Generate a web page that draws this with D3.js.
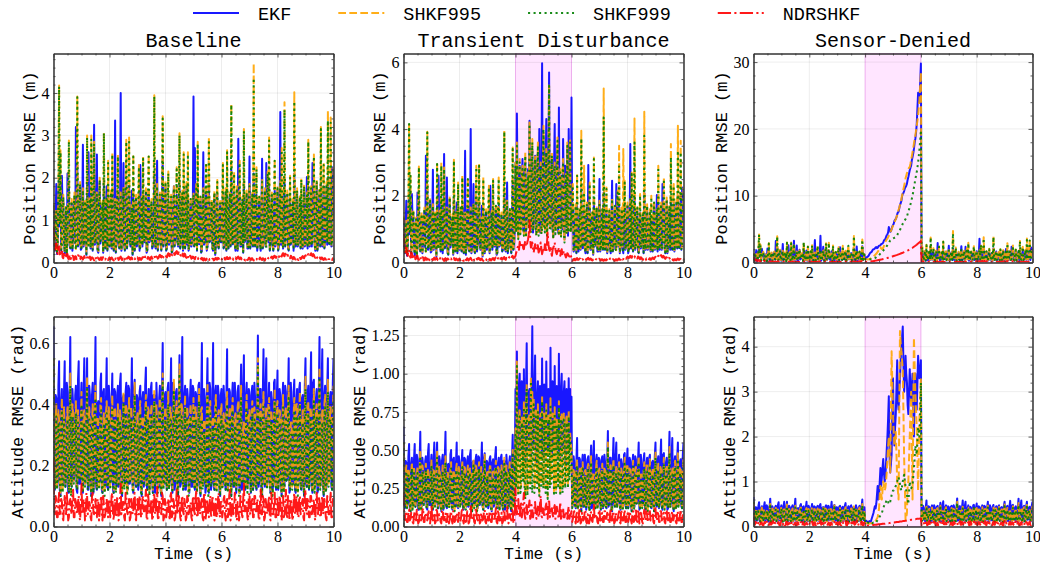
<!DOCTYPE html>
<html>
<head>
<meta charset="utf-8">
<script src="https://cdn.jsdelivr.net/npm/d3@7"></script>
<style>
  html, body { margin: 0; padding: 0; background: #fff; }
  svg { display: block; }
</style>
</head>
<body>
<svg id="chart" width="1040" height="568"></svg>
<script>
// ---------------------------------------------------------------------------
// RMSE time histories sampled every 0.025 s over 0..10 s (401 samples).
// The disturbance and sensor-outage runs share the nominal samples outside
// the 4..6 s event window; the window samples (81 each) are listed separately.
// ---------------------------------------------------------------------------
const timeStep = 0.025;
const methods = ["EKF", "SHKF995", "SHKF999", "NDRSHKF"];
const scenarios = ["Baseline", "Transient Disturbance", "Sensor-Denied"];
const rowLabels = ["Position RMSE (m)", "Attitude RMSE (rad)"];
const xLabel = "Time (s)";
const xTicks = [0, 2, 4, 6, 8, 10];
const eventWindow = [4, 6];

// Nominal position RMSE (m)
const posEKF = [
  1.3,0.45,0.28,1.05,1.85,0.2,0.42,1.5,2.1,0.85,1.6,0.28,2.05,1.2,1.5,0.55,0.22,0.9,1.25,0.18,2.1,1.35,1.9,0.4,0.33,1.1,1.4,0.28,0.58,1.3,1.55,0.45,3.2,1.0,2.3,0.38,0.43,1.15,1.8,0.3,
  0.33,1.15,2.78,0.38,0.52,1.4,1.25,0.18,1.9,0.55,2.6,1.25,1.45,0.33,1.8,0.75,0.28,1.2,3.25,0.42,0.48,1.05,2.55,0.28,0.23,1.25,1.9,0.45,0.58,1.15,1.35,0.23,1.95,0.65,0.33,1.3,1.8,0.28,1.6,0.5,
  0.38,1.25,1.6,0.33,1.7,0.48,0.28,1.15,3.35,0.23,0.52,1.35,1.7,0.42,0.33,1.1,4.0,0.28,0.48,1.2,2.35,0.38,0.28,1.45,1.9,0.33,0.58,1.25,1.8,0.5,0.38,1.05,1.7,0.18,1.6,0.55,0.28,1.3,1.5,0.38,
  0.43,1.2,1.5,0.28,2.3,1.05,1.45,0.38,1.6,0.55,0.48,1.25,1.65,0.23,0.28,1.4,1.7,0.48,0.52,1.15,1.4,0.33,0.38,0.95,2.1,0.42,0.33,1.35,2.4,0.28,0.48,1.1,1.55,0.48,0.28,1.25,2.45,0.38,0.58,1.15,
  1.8,0.28,0.33,1.25,1.5,0.42,0.48,1.15,1.5,0.23,0.28,1.3,1.8,0.38,0.58,1.05,1.6,0.48,0.38,1.2,1.9,0.33,0.48,1.35,1.6,0.28,1.7,0.55,0.33,1.15,1.8,0.42,1.6,0.28,0.38,1.1,1.45,0.38,0.52,1.25,
  3.92,0.38,2.7,1.15,1.75,0.28,1.8,0.52,0.43,1.25,1.5,0.23,0.28,1.05,2.6,0.42,0.48,1.3,1.6,0.28,0.38,1.2,1.85,0.48,0.52,1.1,1.4,0.33,0.28,1.35,1.6,0.18,0.43,1.15,1.6,0.38,0.33,1.0,1.35,0.48,
  0.48,1.25,1.6,0.33,0.38,1.1,1.65,0.28,1.7,0.48,0.33,1.2,1.55,0.38,2.2,0.58,0.43,1.15,1.6,0.42,0.28,1.3,1.7,0.28,2.92,1.05,1.6,0.38,0.38,1.25,1.45,0.23,1.9,0.48,0.52,1.15,1.6,0.33,0.33,1.2,
  2.5,0.33,0.43,1.15,1.55,0.38,2.1,0.58,0.38,1.25,1.6,0.28,0.48,1.1,1.5,0.42,0.28,1.2,2.45,0.33,0.52,1.05,1.65,0.38,2.35,1.3,1.6,0.48,1.8,0.28,0.43,1.15,1.55,0.42,0.28,1.25,1.7,0.38,0.48,1.1,
  1.7,0.28,0.38,1.2,3.55,0.42,1.6,0.48,0.33,1.15,2.0,0.38,1.5,1.25,1.6,0.33,0.28,1.1,1.5,0.42,0.52,1.25,1.4,0.28,2.1,0.52,0.38,1.15,1.65,0.38,0.48,1.05,1.5,0.33,1.4,0.48,0.33,1.2,1.75,0.38,
  0.43,1.15,2.02,0.33,1.8,0.48,0.38,1.25,1.7,0.38,2.35,1.1,1.6,0.42,0.28,1.2,1.85,0.28,0.48,1.3,1.65,0.38,1.9,0.58,0.38,1.15,1.8,0.33,0.52,1.25,1.8,0.42,2.0,0.48,0.43,1.05,1.9,0.38,2.25,1.0,2.2
];
const posSHKF995 = [
  1.4,0.52,0.32,1.15,1.25,0.27,0.47,1.65,4.18,0.95,2.65,0.32,0.42,1.3,1.6,0.62,0.27,1.0,1.35,0.22,0.52,1.45,2.88,0.47,0.37,1.2,1.5,0.32,0.62,1.4,1.65,0.52,0.32,1.1,3.92,0.42,0.47,1.25,1.9,0.37,
  0.37,1.25,1.75,0.42,0.57,1.5,1.35,0.22,3.0,0.62,0.42,1.35,1.55,0.37,3.0,0.82,0.32,1.3,2.85,0.47,0.52,1.15,1.65,0.32,0.27,1.35,2.0,0.52,0.62,1.25,1.45,0.27,3.08,0.72,0.37,1.4,1.55,0.32,2.4,0.57,
  0.42,1.35,1.7,0.37,2.6,0.52,0.32,1.25,1.5,0.27,0.57,1.45,2.55,0.47,0.37,1.2,1.65,0.32,0.52,1.3,1.8,0.42,0.32,1.55,2.9,0.37,0.62,1.35,2.95,0.57,0.42,1.15,1.35,0.22,2.55,0.62,0.32,1.4,1.6,0.42,
  0.47,1.3,2.3,0.32,0.37,1.15,1.55,0.42,2.5,0.62,0.52,1.35,1.75,0.27,0.32,1.5,2.55,0.52,0.57,1.25,1.5,0.37,0.42,1.05,3.95,0.47,0.37,1.45,1.85,0.32,0.52,1.2,1.65,0.52,0.32,1.35,3.45,0.42,0.62,1.25,
  1.95,0.32,0.37,1.35,2.15,0.47,0.52,1.25,1.6,0.27,0.32,1.4,1.8,0.42,0.62,1.15,2.25,0.52,0.42,1.3,3.05,0.37,0.52,1.45,1.7,0.32,2.6,0.62,0.37,1.25,1.9,0.47,2.6,0.32,0.42,1.2,1.55,0.42,0.57,1.35,
  1.65,0.42,0.37,1.25,1.85,0.32,2.85,0.57,0.47,1.35,1.6,0.27,0.32,1.15,1.75,0.47,0.52,1.4,2.35,0.32,0.42,1.3,2.95,0.52,0.57,1.2,1.5,0.37,0.32,1.45,1.7,0.22,0.47,1.25,1.95,0.42,0.37,1.1,1.45,0.52,
  0.52,1.35,2.35,0.37,0.42,1.2,1.75,0.32,2.65,0.52,0.37,1.3,1.65,0.42,3.75,0.62,0.47,1.25,2.15,0.47,0.32,1.4,1.8,0.32,0.52,1.15,2.4,0.42,0.42,1.35,1.55,0.27,3.15,0.52,0.57,1.25,1.7,0.37,0.37,1.3,
  1.85,0.37,0.47,1.25,1.65,0.42,4.7,0.62,0.42,1.35,2.25,0.32,0.52,1.2,1.6,0.47,0.32,1.3,1.95,0.37,0.57,1.15,1.75,0.42,0.37,1.4,2.15,0.52,2.95,0.32,0.47,1.25,1.65,0.47,0.32,1.35,2.45,0.42,0.52,1.2,
  1.8,0.32,0.42,1.3,1.95,0.47,2.7,0.52,0.37,1.25,3.78,0.42,0.52,1.35,1.7,0.37,0.32,1.2,2.05,0.47,0.57,1.35,1.5,0.32,4.02,0.57,0.42,1.25,1.75,0.42,0.52,1.15,1.6,0.37,2.0,0.52,0.37,1.3,1.85,0.42,
  0.47,1.25,1.65,0.37,2.9,0.52,0.42,1.35,1.8,0.42,0.57,1.2,2.55,0.47,0.32,1.3,1.95,0.32,0.52,1.4,1.75,0.42,3.2,0.62,0.42,1.25,2.35,0.37,0.57,1.35,1.9,0.47,3.58,0.52,0.47,1.15,3.42,0.42,0.52,1.1,2.25
];
const posSHKF999 = [
  1.35,0.5,0.3,1.1,1.2,0.25,0.45,1.6,4.15,0.9,2.6,0.3,0.4,1.25,1.55,0.6,0.25,0.95,1.3,0.2,0.5,1.4,2.85,0.45,0.35,1.15,1.45,0.3,0.6,1.35,1.6,0.5,0.3,1.05,3.9,0.4,0.45,1.2,1.85,0.35,
  0.35,1.2,1.7,0.4,0.55,1.45,1.3,0.2,2.95,0.6,0.4,1.3,1.5,0.35,2.9,0.8,0.3,1.25,2.8,0.45,0.5,1.1,1.6,0.3,0.25,1.3,1.95,0.5,0.6,1.2,1.4,0.25,3.05,0.7,0.35,1.35,1.5,0.3,2.35,0.55,
  0.4,1.3,1.65,0.35,2.55,0.5,0.3,1.2,1.45,0.25,0.55,1.4,2.5,0.45,0.35,1.15,1.6,0.3,0.5,1.25,1.75,0.4,0.3,1.5,2.85,0.35,0.6,1.3,2.9,0.55,0.4,1.1,1.3,0.2,2.5,0.6,0.3,1.35,1.55,0.4,
  0.45,1.25,2.25,0.3,0.35,1.1,1.5,0.4,2.45,0.6,0.5,1.3,1.7,0.25,0.3,1.45,2.5,0.5,0.55,1.2,1.45,0.35,0.4,1.0,3.92,0.45,0.35,1.4,1.8,0.3,0.5,1.15,1.6,0.5,0.3,1.3,3.4,0.4,0.6,1.2,
  1.9,0.3,0.35,1.3,2.1,0.45,0.5,1.2,1.55,0.25,0.3,1.35,1.75,0.4,0.6,1.1,2.2,0.5,0.4,1.25,3.0,0.35,0.5,1.4,1.65,0.3,2.55,0.6,0.35,1.2,1.85,0.45,2.55,0.3,0.4,1.15,1.5,0.4,0.55,1.3,
  1.6,0.4,0.35,1.2,1.8,0.3,2.8,0.55,0.45,1.3,1.55,0.25,0.3,1.1,1.7,0.45,0.5,1.35,2.3,0.3,0.4,1.25,2.9,0.5,0.55,1.15,1.45,0.35,0.3,1.4,1.65,0.2,0.45,1.2,1.9,0.4,0.35,1.05,1.4,0.5,
  0.5,1.3,2.3,0.35,0.4,1.15,1.7,0.3,2.6,0.5,0.35,1.25,1.6,0.4,3.72,0.6,0.45,1.2,2.1,0.45,0.3,1.35,1.75,0.3,0.5,1.1,2.35,0.4,0.4,1.3,1.5,0.25,3.1,0.5,0.55,1.2,1.65,0.35,0.35,1.25,
  1.8,0.35,0.45,1.2,1.6,0.4,4.35,0.6,0.4,1.3,2.2,0.3,0.5,1.15,1.55,0.45,0.3,1.25,1.9,0.35,0.55,1.1,1.7,0.4,0.35,1.35,2.1,0.5,2.88,0.3,0.45,1.2,1.6,0.45,0.3,1.3,2.4,0.4,0.5,1.15,
  1.75,0.3,0.4,1.25,1.9,0.45,2.65,0.5,0.35,1.2,3.6,0.4,0.5,1.3,1.65,0.35,0.3,1.15,2.0,0.45,0.55,1.3,1.45,0.3,3.8,0.55,0.4,1.2,1.7,0.4,0.5,1.1,1.55,0.35,1.95,0.5,0.35,1.25,1.8,0.4,
  0.45,1.2,1.6,0.35,2.85,0.5,0.4,1.3,1.75,0.4,0.55,1.15,2.5,0.45,0.3,1.25,1.9,0.3,0.5,1.35,1.7,0.4,3.15,0.6,0.4,1.2,2.3,0.35,0.55,1.3,1.85,0.45,3.35,0.5,0.45,1.1,3.3,0.4,0.5,1.05,2.2
];
const posNDRSHKF = [
  0.85,0.55,0.3,0.42,0.45,0.25,0.2,0.35,0.38,0.2,0.15,0.3,0.28,0.12,0.1,0.25,0.22,0.1,0.12,0.2,0.2,0.09,0.08,0.17,0.18,0.08,0.1,0.16,0.15,0.06,0.07,0.15,0.14,0.08,0.09,0.17,0.16,0.07,0.08,0.14,
  0.13,0.09,0.07,0.12,0.15,0.08,0.1,0.14,0.12,0.07,0.06,0.13,0.14,0.06,0.09,0.12,0.11,0.08,0.05,0.11,0.13,0.06,0.08,0.12,0.1,0.07,0.06,0.11,0.12,0.06,0.09,0.13,0.14,0.08,0.07,0.12,0.11,0.07,0.06,0.1,
  0.12,0.07,0.08,0.12,0.1,0.06,0.05,0.11,0.13,0.08,0.07,0.13,0.11,0.06,0.09,0.12,0.14,0.09,0.06,0.13,0.12,0.07,0.08,0.12,0.15,0.09,0.1,0.14,0.13,0.08,0.07,0.12,0.11,0.07,0.05,0.1,0.1,0.06,0.07,0.11,
  0.12,0.07,0.06,0.11,0.1,0.06,0.08,0.12,0.13,0.08,0.07,0.14,0.15,0.08,0.09,0.13,0.12,0.07,0.06,0.12,0.14,0.09,0.1,0.15,0.16,0.1,0.08,0.14,0.13,0.09,0.11,0.16,0.18,0.13,0.12,0.18,0.2,0.12,0.14,0.17,
  0.18,0.14,0.12,0.19,0.22,0.16,0.15,0.22,0.25,0.18,0.17,0.24,0.23,0.18,0.19,0.25,0.27,0.21,0.2,0.26,0.25,0.18,0.16,0.23,0.22,0.15,0.14,0.21,0.2,0.13,0.11,0.18,0.17,0.11,0.09,0.16,0.15,0.09,0.1,0.14,
  0.13,0.09,0.08,0.13,0.12,0.07,0.06,0.11,0.1,0.06,0.07,0.1,0.11,0.06,0.05,0.1,0.09,0.05,0.06,0.09,0.1,0.05,0.04,0.08,0.08,0.06,0.05,0.09,0.09,0.05,0.06,0.1,0.11,0.07,0.07,0.11,0.1,0.06,0.05,0.09,
  0.09,0.05,0.06,0.1,0.11,0.07,0.07,0.12,0.13,0.08,0.08,0.11,0.12,0.07,0.06,0.1,0.1,0.06,0.07,0.11,0.12,0.08,0.09,0.13,0.14,0.09,0.08,0.12,0.11,0.07,0.06,0.09,0.1,0.06,0.05,0.1,0.09,0.06,0.07,0.11,
  0.11,0.07,0.06,0.1,0.1,0.06,0.05,0.09,0.09,0.06,0.07,0.11,0.12,0.07,0.08,0.12,0.1,0.07,0.06,0.1,0.09,0.06,0.05,0.09,0.1,0.06,0.07,0.11,0.12,0.08,0.08,0.13,0.14,0.09,0.1,0.15,0.16,0.12,0.11,0.15,
  0.18,0.14,0.13,0.18,0.2,0.15,0.14,0.2,0.22,0.16,0.15,0.21,0.19,0.14,0.12,0.18,0.17,0.12,0.1,0.16,0.14,0.1,0.08,0.13,0.12,0.08,0.07,0.12,0.11,0.07,0.06,0.11,0.13,0.08,0.09,0.13,0.15,0.11,0.1,0.15,
  0.17,0.13,0.12,0.17,0.2,0.15,0.14,0.19,0.22,0.17,0.15,0.2,0.18,0.13,0.11,0.16,0.15,0.1,0.09,0.14,0.13,0.09,0.08,0.12,0.11,0.07,0.06,0.1,0.1,0.07,0.07,0.11,0.12,0.08,0.08,0.11,0.1,0.07,0.06,0.1,0.09
];

// Nominal attitude RMSE (rad)
const attEKF = [
  0.655,0.15,0.12,0.43,0.42,0.13,0.15,0.46,0.54,0.12,0.1,0.41,0.45,0.16,0.14,0.44,0.54,0.13,0.16,0.47,0.44,0.11,0.11,0.42,0.62,0.14,0.13,0.45,0.4,0.15,0.17,0.43,0.46,0.12,0.11,0.48,0.54,0.14,0.14,0.41,
  0.47,0.13,0.11,0.44,0.55,0.14,0.16,0.42,0.55,0.12,0.12,0.46,0.43,0.15,0.1,0.43,0.47,0.11,0.16,0.45,0.62,0.13,0.12,0.4,0.41,0.16,0.15,0.47,0.5,0.12,0.11,0.44,0.45,0.14,0.13,0.42,0.55,0.13,0.12,0.46,
  0.42,0.14,0.15,0.41,0.5,0.12,0.11,0.45,0.44,0.15,0.13,0.43,0.46,0.13,0.17,0.47,0.5,0.11,0.1,0.42,0.43,0.16,0.14,0.44,0.47,0.12,0.12,0.46,0.45,0.14,0.16,0.41,0.55,0.13,0.11,0.45,0.48,0.15,0.13,0.43,
  0.42,0.12,0.14,0.44,0.46,0.15,0.1,0.42,0.44,0.13,0.16,0.46,0.52,0.14,0.12,0.41,0.45,0.12,0.14,0.45,0.47,0.15,0.11,0.43,0.43,0.11,0.15,0.47,0.4,0.14,0.13,0.42,0.46,0.12,0.1,0.44,0.6,0.16,0.14,0.43,
  0.44,0.15,0.12,0.45,0.47,0.13,0.15,0.42,0.55,0.14,0.11,0.47,0.46,0.12,0.14,0.44,0.45,0.16,0.1,0.41,0.56,0.13,0.14,0.46,0.62,0.15,0.12,0.43,0.46,0.12,0.16,0.45,0.42,0.14,0.11,0.42,0.48,0.13,0.13,0.46,
  0.45,0.14,0.12,0.44,0.43,0.12,0.15,0.46,0.47,0.13,0.1,0.42,0.6,0.15,0.14,0.45,0.42,0.11,0.13,0.43,0.55,0.14,0.11,0.47,0.45,0.12,0.15,0.41,0.6,0.13,0.12,0.44,0.46,0.15,0.15,0.46,0.43,0.12,0.1,0.43,
  0.45,0.13,0.14,0.46,0.41,0.15,0.12,0.43,0.58,0.12,0.15,0.45,0.44,0.14,0.1,0.42,0.47,0.13,0.13,0.47,0.42,0.11,0.15,0.44,0.46,0.15,0.11,0.41,0.53,0.12,0.14,0.46,0.56,0.14,0.12,0.43,0.47,0.13,0.15,0.45,
  0.43,0.15,0.11,0.44,0.46,0.12,0.14,0.47,0.42,0.14,0.12,0.42,0.625,0.13,0.15,0.45,0.45,0.12,0.1,0.43,0.58,0.15,0.13,0.46,0.55,0.13,0.16,0.41,0.47,0.14,0.11,0.44,0.41,0.12,0.14,0.47,0.48,0.15,0.12,0.42,
  0.51,0.12,0.15,0.45,0.43,0.14,0.1,0.42,0.47,0.13,0.13,0.46,0.44,0.15,0.16,0.43,0.55,0.11,0.12,0.47,0.41,0.14,0.14,0.44,0.48,0.12,0.11,0.41,0.45,0.15,0.15,0.45,0.47,0.13,0.12,0.42,0.43,0.14,0.1,0.46,
  0.55,0.14,0.13,0.43,0.46,0.12,0.16,0.45,0.57,0.13,0.11,0.47,0.48,0.15,0.14,0.42,0.45,0.11,0.12,0.44,0.62,0.13,0.15,0.46,0.58,0.14,0.1,0.43,0.46,0.12,0.13,0.45,0.55,0.15,0.16,0.42,0.44,0.13,0.12,0.47,0.55
];
const attSHKF995 = [
  0.55,0.21,0.13,0.34,0.4,0.13,0.17,0.38,0.35,0.16,0.11,0.36,0.42,0.12,0.15,0.39,0.33,0.14,0.18,0.34,0.39,0.17,0.12,0.37,0.5,0.11,0.14,0.4,0.37,0.15,0.19,0.35,0.41,0.13,0.13,0.38,0.34,0.17,0.16,0.33,
  0.44,0.15,0.12,0.37,0.38,0.14,0.17,0.35,0.49,0.13,0.14,0.39,0.35,0.16,0.11,0.34,0.4,0.12,0.18,0.38,0.46,0.15,0.13,0.36,0.33,0.13,0.16,0.4,0.42,0.14,0.12,0.34,0.37,0.11,0.15,0.37,0.41,0.16,0.13,0.39,
  0.34,0.13,0.17,0.36,0.43,0.15,0.12,0.39,0.38,0.12,0.14,0.34,0.4,0.14,0.19,0.38,0.35,0.16,0.11,0.35,0.44,0.13,0.15,0.4,0.39,0.11,0.13,0.37,0.42,0.15,0.17,0.39,0.34,0.13,0.12,0.36,0.47,0.16,0.14,0.34,
  0.37,0.14,0.16,0.38,0.41,0.12,0.11,0.35,0.36,0.15,0.18,0.37,0.43,0.13,0.13,0.39,0.38,0.11,0.15,0.36,0.4,0.16,0.12,0.34,0.45,0.14,0.17,0.4,0.34,0.12,0.14,0.38,0.42,0.15,0.11,0.35,0.5,0.13,0.16,0.37,
  0.39,0.15,0.13,0.37,0.44,0.13,0.17,0.39,0.37,0.14,0.12,0.35,0.48,0.16,0.15,0.38,0.41,0.12,0.11,0.36,0.53,0.15,0.16,0.4,0.38,0.13,0.13,0.34,0.43,0.14,0.18,0.39,0.36,0.11,0.12,0.37,0.4,0.16,0.15,0.35,
  0.42,0.14,0.13,0.39,0.37,0.12,0.17,0.36,0.45,0.15,0.11,0.38,0.39,0.13,0.15,0.35,0.34,0.16,0.14,0.37,0.47,0.11,0.12,0.4,0.41,0.14,0.16,0.34,0.36,0.15,0.13,0.39,0.43,0.12,0.17,0.36,0.38,0.14,0.11,0.38,
  0.4,0.13,0.15,0.37,0.35,0.15,0.13,0.4,0.44,0.12,0.17,0.35,0.39,0.14,0.11,0.38,0.42,0.16,0.14,0.36,0.37,0.13,0.16,0.39,0.41,0.11,0.12,0.37,0.46,0.15,0.15,0.34,0.34,0.14,0.13,0.38,0.43,0.12,0.17,0.36,
  0.38,0.16,0.12,0.36,0.41,0.13,0.15,0.39,0.36,0.14,0.13,0.34,0.55,0.15,0.16,0.38,0.4,0.12,0.11,0.37,0.44,0.16,0.14,0.35,0.39,0.13,0.17,0.4,0.42,0.14,0.12,0.38,0.35,0.11,0.15,0.36,0.45,0.15,0.13,0.39,
  0.41,0.13,0.16,0.38,0.37,0.15,0.11,0.35,0.43,0.12,0.14,0.37,0.39,0.16,0.17,0.39,0.46,0.14,0.13,0.34,0.34,0.13,0.15,0.36,0.42,0.15,0.12,0.4,0.4,0.11,0.16,0.37,0.44,0.14,0.13,0.35,0.38,0.16,0.11,0.38,
  0.49,0.15,0.14,0.36,0.41,0.13,0.17,0.39,0.37,0.14,0.12,0.35,0.45,0.12,0.15,0.38,0.4,0.16,0.13,0.37,0.52,0.13,0.16,0.34,0.38,0.15,0.11,0.4,0.43,0.12,0.14,0.36,0.48,0.14,0.17,0.39,0.39,0.16,0.13,0.35,0.46
];
const attSHKF999 = [
  0.55,0.2,0.12,0.3,0.36,0.12,0.16,0.34,0.31,0.15,0.1,0.32,0.38,0.11,0.14,0.35,0.29,0.13,0.17,0.3,0.35,0.16,0.11,0.33,0.46,0.1,0.13,0.36,0.33,0.14,0.18,0.31,0.37,0.12,0.12,0.34,0.3,0.16,0.15,0.29,
  0.4,0.14,0.11,0.33,0.34,0.13,0.16,0.31,0.45,0.12,0.13,0.35,0.31,0.15,0.1,0.3,0.36,0.11,0.17,0.34,0.42,0.14,0.12,0.32,0.29,0.12,0.15,0.36,0.38,0.13,0.11,0.3,0.33,0.1,0.14,0.33,0.37,0.15,0.12,0.35,
  0.3,0.12,0.16,0.32,0.39,0.14,0.11,0.35,0.34,0.11,0.13,0.3,0.36,0.13,0.18,0.34,0.31,0.15,0.1,0.31,0.4,0.12,0.14,0.36,0.35,0.1,0.12,0.33,0.38,0.14,0.16,0.35,0.3,0.12,0.11,0.32,0.43,0.15,0.13,0.3,
  0.33,0.13,0.15,0.34,0.37,0.11,0.1,0.31,0.32,0.14,0.17,0.33,0.39,0.12,0.12,0.35,0.34,0.1,0.14,0.32,0.36,0.15,0.11,0.3,0.41,0.13,0.16,0.36,0.3,0.11,0.13,0.34,0.38,0.14,0.1,0.31,0.47,0.12,0.15,0.33,
  0.35,0.14,0.12,0.33,0.4,0.12,0.16,0.35,0.33,0.13,0.11,0.31,0.44,0.15,0.14,0.34,0.37,0.11,0.1,0.32,0.5,0.14,0.15,0.36,0.34,0.12,0.12,0.3,0.39,0.13,0.17,0.35,0.32,0.1,0.11,0.33,0.36,0.15,0.14,0.31,
  0.38,0.13,0.12,0.35,0.33,0.11,0.16,0.32,0.41,0.14,0.1,0.34,0.35,0.12,0.14,0.31,0.3,0.15,0.13,0.33,0.43,0.1,0.11,0.36,0.37,0.13,0.15,0.3,0.32,0.14,0.12,0.35,0.39,0.11,0.16,0.32,0.34,0.13,0.1,0.34,
  0.36,0.12,0.14,0.33,0.31,0.14,0.12,0.36,0.4,0.11,0.16,0.31,0.35,0.13,0.1,0.34,0.38,0.15,0.13,0.32,0.33,0.12,0.15,0.35,0.37,0.1,0.11,0.33,0.42,0.14,0.14,0.3,0.3,0.13,0.12,0.34,0.39,0.11,0.16,0.32,
  0.34,0.15,0.11,0.32,0.37,0.12,0.14,0.35,0.32,0.13,0.12,0.3,0.52,0.14,0.15,0.34,0.36,0.11,0.1,0.33,0.4,0.15,0.13,0.31,0.35,0.12,0.16,0.36,0.38,0.13,0.11,0.34,0.31,0.1,0.14,0.32,0.41,0.14,0.12,0.35,
  0.37,0.12,0.15,0.34,0.33,0.14,0.1,0.31,0.39,0.11,0.13,0.33,0.35,0.15,0.16,0.35,0.42,0.13,0.12,0.3,0.3,0.12,0.14,0.32,0.38,0.14,0.11,0.36,0.36,0.1,0.15,0.33,0.4,0.13,0.12,0.31,0.34,0.15,0.1,0.34,
  0.45,0.14,0.13,0.32,0.37,0.12,0.16,0.35,0.33,0.13,0.11,0.31,0.41,0.11,0.14,0.34,0.36,0.15,0.12,0.33,0.48,0.12,0.15,0.3,0.34,0.14,0.1,0.36,0.39,0.11,0.13,0.32,0.44,0.13,0.16,0.35,0.35,0.15,0.12,0.31,0.42
];
const attNDRSHKF = [
  0.22,0.06,0.04,0.1,0.09,0.03,0.03,0.08,0.11,0.04,0.05,0.09,0.08,0.03,0.02,0.07,0.1,0.05,0.04,0.11,0.07,0.02,0.03,0.08,0.09,0.04,0.05,0.1,0.12,0.03,0.03,0.09,0.08,0.05,0.04,0.08,0.1,0.03,0.02,0.07,
  0.14,0.05,0.04,0.09,0.08,0.02,0.03,0.11,0.1,0.04,0.05,0.08,0.07,0.03,0.02,0.1,0.11,0.05,0.04,0.07,0.09,0.03,0.03,0.09,0.08,0.02,0.05,0.08,0.1,0.04,0.02,0.1,0.07,0.03,0.04,0.07,0.09,0.05,0.03,0.09,
  0.08,0.03,0.05,0.1,0.11,0.04,0.02,0.08,0.09,0.03,0.04,0.1,0.07,0.02,0.03,0.09,0.14,0.04,0.05,0.08,0.08,0.03,0.02,0.11,0.1,0.05,0.04,0.07,0.09,0.02,0.03,0.09,0.07,0.04,0.05,0.1,0.11,0.03,0.02,0.08,
  0.09,0.04,0.04,0.1,0.08,0.03,0.03,0.09,0.1,0.05,0.05,0.08,0.12,0.03,0.02,0.11,0.08,0.04,0.04,0.07,0.09,0.02,0.03,0.1,0.11,0.04,0.05,0.09,0.13,0.03,0.02,0.08,0.08,0.05,0.04,0.11,0.1,0.02,0.03,0.09,
  0.07,0.03,0.05,0.08,0.09,0.04,0.02,0.1,0.11,0.03,0.04,0.09,0.08,0.02,0.03,0.07,0.12,0.04,0.05,0.1,0.09,0.03,0.02,0.08,0.1,0.05,0.04,0.09,0.07,0.02,0.03,0.1,0.09,0.04,0.05,0.07,0.08,0.03,0.02,0.09,
  0.1,0.05,0.04,0.09,0.12,0.03,0.03,0.1,0.08,0.04,0.05,0.08,0.09,0.03,0.02,0.11,0.11,0.02,0.04,0.09,0.07,0.04,0.03,0.08,0.1,0.03,0.05,0.1,0.08,0.05,0.02,0.07,0.09,0.03,0.04,0.09,0.11,0.04,0.03,0.08,
  0.08,0.03,0.05,0.09,0.1,0.04,0.02,0.08,0.09,0.03,0.04,0.1,0.12,0.02,0.03,0.09,0.08,0.04,0.05,0.11,0.1,0.03,0.02,0.08,0.07,0.02,0.04,0.1,0.09,0.04,0.03,0.09,0.14,0.05,0.05,0.08,0.08,0.03,0.02,0.1,
  0.11,0.04,0.04,0.08,0.09,0.03,0.03,0.1,0.1,0.05,0.05,0.09,0.08,0.03,0.02,0.08,0.12,0.04,0.04,0.1,0.09,0.02,0.03,0.09,0.07,0.04,0.05,0.08,0.1,0.03,0.02,0.11,0.08,0.04,0.04,0.07,0.11,0.03,0.03,0.09,
  0.09,0.03,0.05,0.1,0.08,0.04,0.02,0.09,0.1,0.03,0.04,0.08,0.12,0.04,0.03,0.1,0.09,0.02,0.05,0.09,0.07,0.03,0.02,0.08,0.11,0.04,0.04,0.1,0.08,0.03,0.03,0.09,0.1,0.04,0.05,0.08,0.09,0.03,0.02,0.1,
  0.12,0.04,0.04,0.09,0.08,0.03,0.03,0.1,0.1,0.04,0.05,0.08,0.09,0.03,0.02,0.09,0.11,0.05,0.04,0.1,0.08,0.03,0.03,0.08,0.1,0.04,0.05,0.09,0.07,0.03,0.02,0.1,0.09,0.04,0.04,0.08,0.11,0.03,0.03,0.09,0.08
];

// Transient disturbance, 4.000..6.000 s (81 samples)
const distPosEKF = [3.0,1.0,4.47,2.2,0.8,2.6,2.9,1.3,1.2,2.5,3.1,1.0,0.9,2.7,3.0,0.9,1.4,2.4,2.8,1.2,4.25,1.1,1.0,2.8,3.4,0.9,1.3,2.6,3.2,1.0,0.9,2.9,3.3,1.2,4.0,0.9,2.8,2.5,5.97,1.1,3.8,2.3,1.0,2.7,4.3,1.0,1.3,2.6,5.7,1.2,1.1,2.4,3.1,1.0,0.8,2.8,4.15,1.1,1.2,2.5,3.5,0.9,4.65,1.2,2.6,2.6,1.3,1.0,3.7,2.2,0.7,2.9,2.5,1.1,3.4,0.8,4.0,2.3,3.5,1.0,4.95];
const distPosSHKF995 = [3.0,0.95,3.6,1.3,0.75,2.4,3.1,0.9,1.15,2.6,2.9,1.1,0.85,2.5,3.3,0.8,1.35,2.3,2.7,1.05,4.2,0.9,0.95,2.7,3.7,1.0,1.25,2.45,3.2,0.95,0.85,2.6,3.6,0.85,1.45,2.55,3.0,0.9,1.05,2.7,4.1,1.1,0.95,2.5,3.4,0.85,1.25,2.8,5.35,1.0,1.05,2.35,3.3,1.1,0.75,2.6,3.0,0.9,1.15,2.5,3.75,1.05,0.85,2.4,2.8,0.8,1.25,2.65,3.1,1.0,0.65,2.3,2.7,0.9,3.6,1.1,0.95,2.4,3.7,0.95,1.65];
const distPosSHKF999 = [2.9,0.9,3.5,1.25,0.7,2.3,3.0,0.85,1.1,2.5,2.8,1.05,0.8,2.4,3.2,0.75,1.3,2.2,2.6,1.0,4.15,0.85,0.9,2.6,3.6,0.95,1.2,2.35,3.1,0.9,0.8,2.5,3.5,0.8,1.4,2.45,2.9,0.85,1.0,2.6,4.0,1.05,0.9,2.4,3.3,0.8,1.2,2.7,5.3,0.95,1.0,2.25,3.2,1.05,0.7,2.5,2.9,0.85,1.1,2.4,3.65,1.0,0.8,2.3,2.7,0.75,1.2,2.55,3.0,0.95,0.6,2.2,2.6,0.85,3.5,1.05,0.9,2.3,3.6,0.9,1.6];
const distPosNDRSHKF = [0.2,0.3,0.35,0.45,0.5,0.38,0.62,0.5,0.45,0.6,0.58,0.42,0.4,0.55,0.65,0.48,0.5,0.62,0.7,0.85,1.25,0.7,0.45,0.5,0.6,0.4,0.3,0.45,0.55,0.35,0.4,0.55,0.5,0.3,0.35,0.45,0.6,0.4,0.25,0.35,0.45,0.3,0.55,0.45,0.3,0.6,0.9,0.55,0.4,0.35,0.5,0.3,0.2,0.38,0.45,0.5,0.6,0.4,0.3,0.25,0.35,0.35,0.45,0.3,0.2,0.32,0.4,0.2,0.25,0.35,0.3,0.22,0.15,0.2,0.28,0.25,0.2,0.18,0.25,0.2,0.15];
// SHKF995 position peaks after the disturbance: [time (s), RMSE (m)]
const distPosSHKF995Peaks = [[6.35, 3.95], [6.45, 2.9], [7.15, 5.22], [7.7, 3.5], [7.85, 3.4], [8.25, 4.32], [8.6, 4.52], [9.55, 3.55], [9.8, 4.1], [9.9, 3.65]];
const distAttEKF = [0.9,0.5,1.145,0.6,0.45,0.92,1.0,0.55,0.5,0.95,0.85,0.45,1.03,0.5,0.4,0.9,1.2,0.5,0.55,0.88,0.9,0.5,0.45,0.93,1.31,0.55,0.5,0.9,1.12,0.45,0.4,0.86,0.95,0.5,0.55,0.92,0.85,0.5,1.1,0.45,0.45,0.93,0.9,0.5,1.08,0.55,0.5,0.9,0.88,0.5,1.17,0.48,0.45,0.95,0.92,0.5,1.05,0.55,0.5,0.92,0.9,0.5,1.13,0.5,0.45,0.9,1.0,0.5,0.55,0.88,0.95,0.45,0.4,0.9,0.88,0.5,0.97,0.55,0.9,0.5,0.85];
const distAttSHKF995 = [0.64,0.28,1.08,0.33,0.22,0.74,0.76,0.25,0.27,0.72,0.7,0.33,0.82,0.28,0.2,0.76,0.94,0.23,0.32,0.7,0.74,0.28,0.98,0.33,0.88,0.74,0.84,0.25,0.3,0.76,0.7,0.28,0.8,0.33,0.22,0.72,0.74,0.28,0.86,0.31,0.27,0.74,0.66,0.25,0.8,0.33,0.2,0.74,0.74,0.28,0.84,0.31,0.32,0.74,0.7,0.23,0.78,0.33,0.24,0.7,0.64,0.28,0.82,0.33,0.22,0.74,0.74,0.25,0.27,0.74,0.72,0.28,0.32,0.72,0.66,0.28,0.76,0.33,0.62,0.54,0.5];
const distAttSHKF999 = [0.6,0.25,1.05,0.3,0.2,0.7,0.72,0.22,0.25,0.68,0.65,0.3,0.78,0.25,0.18,0.72,0.9,0.2,0.3,0.66,0.7,0.25,0.95,0.3,0.22,0.7,0.8,0.22,0.28,0.72,0.66,0.25,0.75,0.3,0.2,0.68,0.7,0.25,0.82,0.28,0.25,0.7,0.62,0.22,0.76,0.3,0.18,0.7,0.7,0.25,0.8,0.28,0.3,0.7,0.65,0.2,0.74,0.3,0.22,0.66,0.6,0.25,0.78,0.3,0.2,0.7,0.7,0.22,0.25,0.7,0.68,0.25,0.3,0.68,0.62,0.25,0.72,0.3,0.58,0.5,0.45];
const distAttNDRSHKF = [0.25,0.12,0.08,0.14,0.18,0.07,0.06,0.13,0.15,0.06,0.1,0.16,0.22,0.08,0.05,0.12,0.14,0.07,0.09,0.13,0.17,0.05,0.06,0.14,0.12,0.06,0.1,0.12,0.16,0.07,0.05,0.11,0.13,0.06,0.08,0.15,0.2,0.07,0.06,0.12,0.11,0.06,0.09,0.13,0.15,0.07,0.05,0.14,0.18,0.06,0.08,0.11,0.12,0.08,0.06,0.12,0.14,0.05,0.1,0.13,0.09,0.07,0.05,0.11,0.16,0.05,0.07,0.12,0.12,0.06,0.06,0.09,0.1,0.07,0.05,0.1,0.13,0.05,0.08,0.08,0.1];

// Sensor outage, 4.000..6.000 s (81 samples)
const outPosEKF = [0.5,0.55,0.7,0.85,0.9,1.0,1.2,1.4,1.5,1.55,1.7,1.9,2.0,2.0,2.1,2.25,2.3,2.15,2.2,2.4,2.5,2.5,2.6,2.75,2.8,2.85,3.0,3.3,3.4,3.5,3.8,4.1,4.2,4.5,5.3,5.0,4.6,4.7,5.0,5.4,5.6,5.8,6.2,6.4,6.5,6.8,7.2,7.5,7.6,8.1,8.6,8.9,9.2,9.9,10.3,10.4,10.7,11.1,11.3,11.5,11.8,12.4,12.8,13.3,13.8,14.2,14.5,15.3,15.8,16.3,17.0,17.9,18.5,19.4,20.7,23.0,25.4,24.5,24.0,27.0,29.8];
const outPosSHKF995 = [0.5,0.48,0.5,0.47,0.45,0.48,0.5,0.55,0.6,0.65,0.7,0.8,0.9,1.0,1.1,1.2,1.3,1.45,1.6,1.75,1.9,2.1,2.3,2.1,2.0,2.1,2.2,2.5,2.8,3.0,3.3,3.45,3.6,3.8,4.0,4.25,4.5,4.75,5.0,5.25,5.5,5.75,6.0,6.25,6.5,6.8,7.1,7.5,7.9,8.2,8.6,9.0,9.5,10.0,10.5,11.0,11.5,12.0,12.6,13.0,13.4,13.7,14.0,14.2,14.3,14.8,15.4,15.9,16.5,17.1,17.8,18.4,19.0,19.7,20.5,21.2,22.0,23.2,24.5,26.5,28.5];
const outPosSHKF999 = [0.5,0.47,0.45,0.48,0.5,0.47,0.45,0.48,0.5,0.5,0.5,0.52,0.55,0.6,0.65,0.72,0.8,0.88,0.95,1.02,1.1,1.22,1.35,1.48,1.6,1.7,1.8,1.9,2.0,2.15,2.3,2.45,2.6,2.75,2.9,3.1,3.3,3.35,3.4,3.5,3.6,3.65,3.7,3.75,3.8,3.95,4.1,4.3,4.5,4.7,4.9,5.1,5.3,5.55,5.8,6.0,6.2,6.35,6.5,6.7,6.9,7.25,7.6,7.95,8.3,8.7,9.1,9.55,10.0,10.6,11.2,11.8,12.5,13.0,13.5,14.2,15.0,16.0,17.0,18.3,19.8];
const outPosNDRSHKF = [0.05,0.06,0.07,0.085,0.1,0.115,0.13,0.145,0.16,0.175,0.19,0.205,0.22,0.24,0.26,0.28,0.3,0.32,0.34,0.36,0.38,0.4,0.42,0.445,0.47,0.495,0.52,0.545,0.57,0.595,0.62,0.65,0.68,0.71,0.74,0.77,0.8,0.83,0.86,0.895,0.93,0.965,1.0,1.035,1.07,1.105,1.14,1.18,1.22,1.26,1.3,1.34,1.38,1.42,1.46,1.505,1.55,1.595,1.64,1.69,1.74,1.79,1.84,1.895,1.95,2.01,2.07,2.135,2.2,2.275,2.35,2.425,2.5,2.585,2.67,2.76,2.85,2.935,3.02,3.11,3.2];
const outAttEKF = [0.15,0.13,0.12,0.11,0.1,0.09,0.12,0.11,0.1,0.15,0.2,0.25,0.3,0.38,0.45,0.4,0.5,0.7,0.9,0.6,0.7,1.0,1.3,0.9,1.1,1.3,1.5,1.2,1.0,1.1,1.4,1.7,2.0,2.4,2.9,1.6,1.2,1.4,1.6,2.5,3.3,2.3,1.8,2.2,2.5,3.1,3.7,2.8,2.6,3.0,3.3,3.7,4.0,4.2,4.45,3.6,3.0,3.3,3.8,3.4,3.2,2.7,2.5,3.0,3.5,3.1,2.8,3.0,3.4,2.6,2.0,2.8,3.4,3.0,2.6,3.2,3.8,3.5,3.3,3.4,3.7];
const outAttSHKF995 = [0.08,0.07,0.07,0.08,0.08,0.07,0.06,0.07,0.07,0.07,0.08,0.09,0.1,0.11,0.12,0.13,0.15,0.18,0.2,0.3,0.4,0.7,0.9,0.75,0.6,0.8,1.0,0.9,0.8,0.85,1.0,1.2,1.5,1.8,2.0,1.6,1.2,2.6,3.9,3.2,2.5,2.1,1.8,2.0,2.1,1.6,1.0,0.8,0.6,2.5,4.35,4.1,3.9,3.7,3.5,2.5,1.5,0.9,0.15,0.2,0.3,0.9,1.0,1.5,2.0,2.5,3.0,1.8,0.6,2.4,4.2,3.6,3.0,2.6,2.2,1.5,0.8,1.6,2.5,2.9,3.3];
const outAttSHKF999 = [0.08,0.07,0.07,0.08,0.09,0.07,0.06,0.07,0.08,0.08,0.07,0.08,0.09,0.09,0.08,0.08,0.1,0.12,0.15,0.17,0.2,0.22,0.25,0.28,0.3,0.35,0.4,0.45,0.5,0.5,0.55,0.58,0.6,0.55,0.5,0.5,0.55,0.62,0.7,0.75,0.8,0.8,0.85,0.88,0.9,0.95,1.0,1.05,1.1,1.0,0.95,0.85,0.8,0.9,1.0,1.1,1.15,1.0,0.9,0.8,0.7,0.6,0.5,0.75,1.0,0.9,0.85,0.88,0.9,1.1,1.3,1.5,1.8,1.7,1.6,1.9,2.2,2.1,2.0,2.6,3.2];
const outAttNDRSHKF = [0.02,0.02,0.02,0.02,0.02,0.025,0.03,0.03,0.03,0.03,0.03,0.035,0.035,0.04,0.04,0.04,0.04,0.045,0.045,0.05,0.05,0.05,0.05,0.055,0.055,0.06,0.06,0.06,0.06,0.065,0.07,0.07,0.07,0.075,0.075,0.08,0.08,0.085,0.085,0.09,0.09,0.09,0.09,0.095,0.095,0.1,0.1,0.1,0.1,0.105,0.11,0.11,0.11,0.115,0.12,0.12,0.12,0.125,0.13,0.13,0.13,0.135,0.14,0.14,0.14,0.145,0.15,0.15,0.15,0.155,0.16,0.16,0.16,0.165,0.17,0.17,0.17,0.175,0.175,0.18,0.18];

// Y tick labels per panel
const yTicksPosBaseline = [0, 1, 2, 3, 4];
const yTicksPosTransient = [0, 2, 4, 6];
const yTicksPosDenied = [0, 10, 20, 30];
const yTicksAttBaseline = [0.0, 0.2, 0.4, 0.6];
const yTicksAttTransient = [0.00, 0.25, 0.50, 0.75, 1.00, 1.25];
const yTicksAttDenied = [0, 1, 2, 3, 4];

// ---------------------------------------------------------------------------
// Assemble full-length histories for the event scenarios
// ---------------------------------------------------------------------------
const iStart = Math.round(eventWindow[0] / timeStep);
const iEnd = Math.round(eventWindow[1] / timeStep);
function withWindow(nominal, windowVals) {
  return nominal.slice(0, iStart).concat(windowVals, nominal.slice(iEnd + 1));
}
function withPeaks(series, peaks) {
  const out = series.slice();
  peaks.forEach(([t, v]) => { out[Math.round(t / timeStep)] = v; });
  return out;
}

const panels = [
  { row: 0, col: 0, title: scenarios[0], span: false, ticks: yTicksPosBaseline, fmt: d3.format("d"),
    series: [posEKF, posSHKF995, posSHKF999, posNDRSHKF] },
  { row: 0, col: 1, title: scenarios[1], span: true, ticks: yTicksPosTransient, fmt: d3.format("d"),
    series: [withWindow(posEKF, distPosEKF),
             withPeaks(withWindow(posSHKF995, distPosSHKF995), distPosSHKF995Peaks),
             withWindow(posSHKF999, distPosSHKF999), withWindow(posNDRSHKF, distPosNDRSHKF)] },
  { row: 0, col: 2, title: scenarios[2], span: true, ticks: yTicksPosDenied, fmt: d3.format("d"),
    series: [withWindow(posEKF, outPosEKF), withWindow(posSHKF995, outPosSHKF995),
             withWindow(posSHKF999, outPosSHKF999), withWindow(posNDRSHKF, outPosNDRSHKF)] },
  { row: 1, col: 0, span: false, ticks: yTicksAttBaseline, fmt: d3.format(".1f"),
    series: [attEKF, attSHKF995, attSHKF999, attNDRSHKF] },
  { row: 1, col: 1, span: true, ticks: yTicksAttTransient, fmt: d3.format(".2f"),
    series: [withWindow(attEKF, distAttEKF), withWindow(attSHKF995, distAttSHKF995),
             withWindow(attSHKF999, distAttSHKF999), withWindow(attNDRSHKF, distAttNDRSHKF)] },
  { row: 1, col: 2, span: true, ticks: yTicksAttDenied, fmt: d3.format("d"),
    series: [withWindow(attEKF, outAttEKF), withWindow(attSHKF995, outAttSHKF995),
             withWindow(attSHKF999, outAttSHKF999), withWindow(attNDRSHKF, outAttNDRSHKF)] }
];

// ---------------------------------------------------------------------------
// Layout and styling
// ---------------------------------------------------------------------------
const colLeft = [53.5, 403.5, 753.5];
const colWidth = [280, 280, 279];
const rowTop = [53.5, 316.5];
const rowHeight = [209, 210];

const monoFont = "'Liberation Mono', 'DejaVu Sans Mono', monospace";
const serifFont = "'Liberation Serif', 'DejaVu Serif', serif";
const lineColors = ["#0000ff", "#ffa500", "#008000", "#ff0000"];
const lineDashes = [null, "7.7,3.3", "2.1,3.4", "13.3,3.3,2.1,3.3"];
const lineWidth = 2.0;
const lineAlpha = 0.9;
const axisColor = "#333";

const svg = d3.select("#chart");

// minor tick step following the usual auto-minor rule
function minorStep(ticks) {
  const step = ticks[1] - ticks[0];
  const mant = step / Math.pow(10, Math.floor(Math.log10(step) + 1e-9));
  const nd = [1, 2.5, 5, 10].some(v => Math.abs(v - mant) < 1e-6) ? 5 : 4;
  return step / nd;
}

panels.forEach((p, k) => {
  const left = colLeft[p.col], width = colWidth[p.col];
  const top = rowTop[p.row], height = rowHeight[p.row];
  const allVals = p.series.flat();
  const vMax = d3.max(allVals), vMin = d3.min(allVals);

  const x = d3.scaleLinear().domain([0, 10]).range([left, left + width]);
  const y = d3.scaleLinear().domain([0, vMax + 0.05 * (vMax - vMin)]).range([top + height, top]);

  const g = svg.append("g");
  const clipId = "plot-clip-" + k;
  g.append("clipPath").attr("id", clipId)
    .append("rect").attr("x", left).attr("y", top).attr("width", width).attr("height", height);

  // event window
  if (p.span) {
    g.append("rect")
      .attr("x", x(eventWindow[0])).attr("y", top)
      .attr("width", x(eventWindow[1]) - x(eventWindow[0])).attr("height", height)
      .attr("fill", "#ff00ff").attr("fill-opacity", 0.1)
      .attr("stroke", "#ff00ff").attr("stroke-opacity", 0.22).attr("stroke-width", 1);
  }

  // grid
  const grid = g.append("g").attr("stroke", "#000").attr("stroke-opacity", 0.09).attr("stroke-width", 0.8);
  xTicks.forEach(t => grid.append("line").attr("x1", x(t)).attr("x2", x(t)).attr("y1", top).attr("y2", top + height));
  p.ticks.forEach(t => grid.append("line").attr("x1", left).attr("x2", left + width).attr("y1", y(t)).attr("y2", y(t)));

  // series
  const line = d3.line().x((d, i) => x(i * timeStep)).y(d => y(d));
  p.series.forEach((s, j) => {
    g.append("path")
      .attr("clip-path", `url(#${clipId})`)
      .attr("d", line(s))
      .attr("fill", "none")
      .attr("stroke", lineColors[j])
      .attr("stroke-width", lineWidth)
      .attr("stroke-opacity", lineAlpha)
      .attr("stroke-linejoin", "round")
      .attr("stroke-dasharray", lineDashes[j]);
  });

  // axes, ticks pointing inward on all four sides
  const xMinor = d3.range(0, 10 + 1e-9, minorStep(xTicks)).filter(v => !xTicks.some(t => Math.abs(t - v) < 1e-9));
  const yTop = y.domain()[1];
  const yMinor = d3.range(0, yTop, minorStep(p.ticks)).filter(v => !p.ticks.some(t => Math.abs(t - v) < 1e-9));

  function styleAxis(sel) {
    sel.selectAll(".domain").attr("stroke", axisColor).attr("stroke-width", 1);
    sel.selectAll(".tick line").attr("stroke", axisColor).attr("stroke-width", 0.8);
    sel.selectAll("text").attr("fill", "#000");
    sel.attr("font-family", serifFont).attr("font-size", 16);
  }

  g.append("g").attr("transform", `translate(0,${top + height})`)
    .call(d3.axisBottom(x).tickValues(xTicks).tickFormat(d3.format("d")).tickSizeInner(-4).tickSizeOuter(0).tickPadding(4))
    .call(styleAxis);
  g.append("g").attr("transform", `translate(0,${top + height})`)
    .call(d3.axisBottom(x).tickValues(xMinor).tickFormat("").tickSizeInner(-2).tickSizeOuter(0)).call(styleAxis);
  g.append("g").attr("transform", `translate(0,${top})`)
    .call(d3.axisTop(x).tickValues(xTicks).tickFormat("").tickSizeInner(-4).tickSizeOuter(0)).call(styleAxis);
  g.append("g").attr("transform", `translate(0,${top})`)
    .call(d3.axisTop(x).tickValues(xMinor).tickFormat("").tickSizeInner(-2).tickSizeOuter(0)).call(styleAxis);

  const leftAxis = g.append("g").attr("transform", `translate(${left},0)`)
    .call(d3.axisLeft(y).tickValues(p.ticks).tickFormat(p.fmt).tickSizeInner(-4).tickSizeOuter(0).tickPadding(4))
    .call(styleAxis);
  g.append("g").attr("transform", `translate(${left},0)`)
    .call(d3.axisLeft(y).tickValues(yMinor).tickFormat("").tickSizeInner(-2).tickSizeOuter(0)).call(styleAxis);
  g.append("g").attr("transform", `translate(${left + width},0)`)
    .call(d3.axisRight(y).tickValues(p.ticks).tickFormat("").tickSizeInner(-4).tickSizeOuter(0)).call(styleAxis);
  g.append("g").attr("transform", `translate(${left + width},0)`)
    .call(d3.axisRight(y).tickValues(yMinor).tickFormat("").tickSizeInner(-2).tickSizeOuter(0)).call(styleAxis);

  // y label just outside the tick labels
  const bb = leftAxis.node().getBBox();
  const labelX = left + bb.x - 11.5;
  const labelY = top + height / 2;
  g.append("text")
    .attr("transform", `translate(${labelX},${labelY}) rotate(-90)`)
    .attr("text-anchor", "middle")
    .attr("dominant-baseline", "central")
    .attr("font-family", monoFont).attr("font-size", 17).attr("fill", "#000")
    .text(rowLabels[p.row]);

  if (p.row === 1) {
    g.append("text")
      .attr("x", left + width / 2).attr("y", top + height + 32)
      .attr("text-anchor", "middle")
      .attr("font-family", monoFont).attr("font-size", 16.5).attr("fill", "#000")
      .text(xLabel);
  }
  if (p.title) {
    g.append("text")
      .attr("x", left + width / 2).attr("y", 47)
      .attr("text-anchor", "middle")
      .attr("font-family", monoFont).attr("font-size", 20).attr("fill", "#000")
      .text(p.title);
  }
});

// legend across the top
const legend = svg.append("g");
let lx = 193;
methods.forEach((m, j) => {
  legend.append("line")
    .attr("x1", lx).attr("x2", lx + 46).attr("y1", 13).attr("y2", 13)
    .attr("stroke", lineColors[j]).attr("stroke-width", lineWidth)
    .attr("stroke-opacity", lineAlpha)
    .attr("stroke-dasharray", lineDashes[j]);
  const t = legend.append("text")
    .attr("x", lx + 65).attr("y", 19.5)
    .attr("font-family", monoFont).attr("font-size", 18.5).attr("fill", "#000")
    .text(m);
  lx = lx + 65 + t.node().getComputedTextLength() + 47;
});
</script>
</body>
</html>
